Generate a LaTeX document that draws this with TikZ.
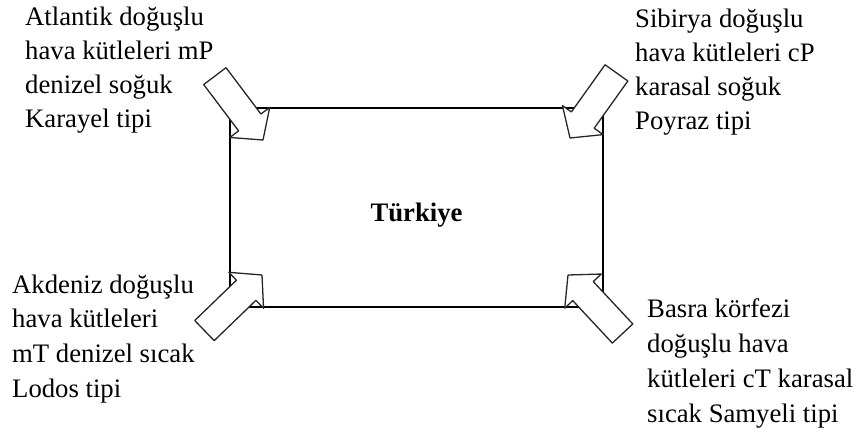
\documentclass[tikz,border=0pt]{standalone}
\usepackage{fontspec}
\setmainfont{Liberation Serif}
\begin{document}
\begin{tikzpicture}[x=1pt,y=1pt,
  lbl/.style={anchor=base west, inner sep=0pt, font=\fontsize{26.7}{34}\selectfont},
  boxline/.style={draw=black, line width=1.6pt},
  barrowline/.style={draw=black!85, line width=1.3pt, fill=white, line join=round},
  barrow/.pic={\path[barrowline] (0,0) -- (-22,25) -- (-22,14) -- (-80,14) -- (-80,-14) -- (-22,-14) -- (-22,-25) -- cycle;}
]
\useasboundingbox (0,0) rectangle (859,-434);
% main box
\node[boxline, minimum width=373pt, minimum height=199pt, inner sep=0pt] (box) at (416.5,-207.5) {};
\node[anchor=base, inner sep=0pt, font=\bfseries\fontsize{26.7}{34}\selectfont] (tk) at (416.5,-221) {Türkiye};
% block arrows
\pic[rotate=-53] at (263,-140) {barrow};
\pic[rotate=-125.5] at (570,-138) {barrow};
\pic[rotate=44] at (262,-275) {barrow};
\pic[rotate=133] at (568,-275) {barrow};
% labels
\foreach \t [count=\i, evaluate=\i as \yy using {25+34.3*(\i-1)}] in {Atlantik doğuşlu, hava kütleleri mP, denizel soğuk, Karayel tipi}
  \node[lbl] (tl\i) at (25,-\yy) {\t};
\foreach \t [count=\i, evaluate=\i as \yy using {27+34.3*(\i-1)}] in {Sibirya doğuşlu, hava kütleleri cP, karasal soğuk, Poyraz tipi}
  \node[lbl] (tr\i) at (635,-\yy) {\t};
\foreach \t [count=\i, evaluate=\i as \yy using {293+34.7*(\i-1)}] in {Akdeniz doğuşlu, hava kütleleri, mT denizel sıcak, Lodos tipi}
  \node[lbl] (bl\i) at (12,-\yy) {\t};
\foreach \t [count=\i, evaluate=\i as \yy using {317+35*(\i-1)}] in {Basra körfezi, doğuşlu hava, kütleleri cT karasal, sıcak Samyeli tipi}
  \node[lbl] (br\i) at (647,-\yy) {\t};
\end{tikzpicture}
\end{document}
